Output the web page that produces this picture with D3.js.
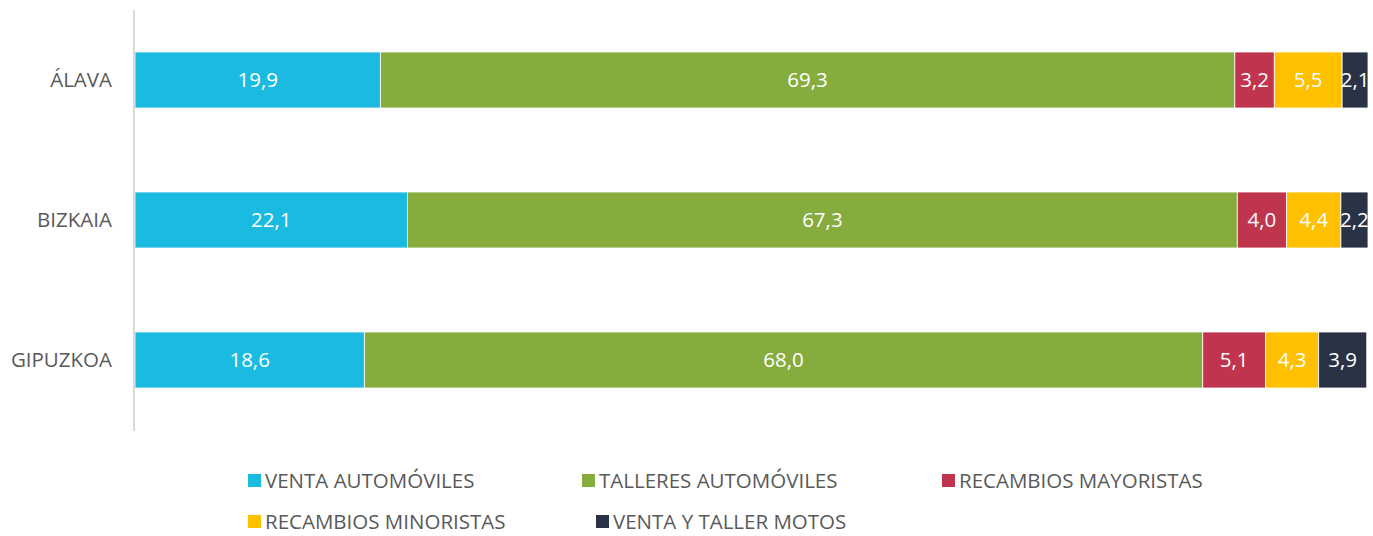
<!DOCTYPE html>
<html><head><meta charset="utf-8">
<script src="https://cdn.jsdelivr.net/npm/d3@7"></script>
<style>body{margin:0;background:#fff;} svg{display:block;font-family:"Open Sans",sans-serif;}</style>
</head><body>
<svg id="c" width="1373" height="536"></svg>
<script>
const categories = ["ÁLAVA", "BIZKAIA", "GIPUZKOA"];
const seriesNames = ["VENTA AUTOMÓVILES", "TALLERES AUTOMÓVILES", "RECAMBIOS MAYORISTAS", "RECAMBIOS MINORISTAS", "VENTA Y TALLER MOTOS"];
const ventaAutomoviles = [19.9, 22.1, 18.6];
const talleresAutomoviles = [69.3, 67.3, 68.0];
const recambiosMayoristas = [3.2, 4.0, 5.1];
const recambiosMinoristas = [5.5, 4.4, 4.3];
const ventaTallerMotos = [2.1, 2.2, 3.9];
const colors = ["#1BBAE0", "#87AC3E", "#C0344D", "#FFC000", "#2A3346"];

const seriesValues = [ventaAutomoviles, talleresAutomoviles, recambiosMayoristas, recambiosMinoristas, ventaTallerMotos];
const rows = categories.map((c, i) => {
  const o = {cat: c};
  seriesNames.forEach((s, j) => o[s] = seriesValues[j][i]);
  return o;
});
const stack = d3.stack().keys(seriesNames)(rows);

const svg = d3.select("#c");
const x = d3.scaleLinear().domain([0, 100]).range([135, 1368]);
const y = d3.scaleBand().domain(categories).range([10, 430]).paddingInner(0.6).paddingOuter(0.3);

const fmt = v => d3.format(".1f")(v).replace(".", ",");
const FS = 20.5;

stack.forEach((layer, j) => {
  const g = svg.append("g");
  g.selectAll("rect").data(layer).join("rect")
    .attr("x", d => x(d[0]))
    .attr("y", d => y(d.data.cat))
    .attr("width", d => x(d[1]) - x(d[0]))
    .attr("height", y.bandwidth())
    .attr("fill", colors[j])
    .attr("stroke", "#fff").attr("stroke-width", 0.8);
  g.selectAll("text").data(layer).join("text")
    .attr("x", d => (x(d[0]) + x(d[1])) / 2)
    .attr("y", d => y(d.data.cat) + y.bandwidth() / 2)
    .attr("dy", "0.35em")
    .attr("text-anchor", "middle")
    .attr("fill", "#fff")
    .attr("font-size", FS)
    .text(d => fmt(d[1] - d[0]));
});

// axis
const ax = svg.append("g").attr("transform", "translate(134,0)")
  .call(d3.axisLeft(y).tickSize(0).tickPadding(22));
ax.select(".domain").attr("stroke", "#D9D9D9").attr("stroke-width", 2).attr("d", "M0,10V431");
ax.selectAll("text").attr("font-size", FS).attr("fill", "#595959").attr("font-family", "Open Sans, sans-serif");

// legend
const legendPos = [[248, 481], [582, 481], [942, 481], [248, 522], [596, 522]];
const lg = svg.append("g").selectAll("g").data(seriesNames).join("g")
  .attr("transform", (d, i) => `translate(${legendPos[i][0]},${legendPos[i][1]})`);
lg.append("rect").attr("x", 0).attr("y", -7).attr("width", 13).attr("height", 13)
  .attr("fill", (d, i) => colors[i]);
lg.append("text").attr("x", 17).attr("dy", "0.35em").attr("font-size", FS).attr("fill", "#595959")
  .text(d => d);
</script>
</body></html>
